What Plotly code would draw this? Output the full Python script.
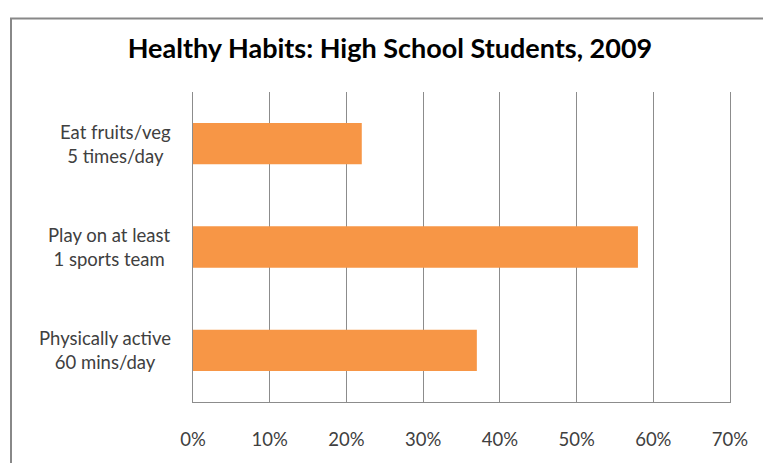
import plotly.graph_objects as go

categories = ["Physically active<br>60 mins/day", "Play on at least<br>1 sports team", "Eat fruits/veg<br>5 times/day"]
values = [0.37, 0.58, 0.22]
tick_vals = [0, 0.1, 0.2, 0.3, 0.4, 0.5, 0.6, 0.7]
tick_text = ["0%", "10%", "20%", "30%", "40%", "50%", "60%", "70%"]
title_text = "Healthy Habits: High School Students, 2009"

W, H = 763, 463
L, R, T, B = 193, 33, 92, 61
pw, ph = W - L - R, H - T - B

fig = go.Figure(go.Bar(
    y=list(range(len(categories))), x=values, orientation="h",
    marker=dict(color="#F79646", line=dict(width=0)), width=0.4,
))

annotations = []
for i, c in enumerate(categories):
    annotations.append(dict(
        x=-20.0 / pw, xref="paper", y=i, yref="y", text=c, showarrow=False,
        xanchor="right", yanchor="middle", align="center",
        font=dict(family="Lato", size=18.5, color="#404040"),
    ))

fig.update_layout(
    width=W, height=H,
    margin=dict(l=L, r=R, t=T, b=B),
    paper_bgcolor="white", plot_bgcolor="white",
    showlegend=False,
    title=dict(text=title_text, x=390 / W, xanchor="center", y=1 - 49 / H, yanchor="middle",
               font=dict(family="Lato", size=27, color="#000000", weight="bold")),
    xaxis=dict(range=[0, 0.7], tickvals=tick_vals, ticktext=tick_text,
               showgrid=True, gridcolor="#8C8C8C", gridwidth=1,
               showline=True, linecolor="#8C8C8C", linewidth=1, mirror=False,
               zeroline=False, ticks="", ticklen=0, ticklabelstandoff=21,
               tickfont=dict(family="Lato", size=18.5, color="#404040")),
    yaxis=dict(range=[-0.5, 2.5], showticklabels=False, showgrid=False,
               showline=True, linecolor="#8C8C8C", linewidth=1, mirror=True,
               zeroline=False, ticks=""),
    annotations=annotations,
    shapes=[dict(type="rect", xref="paper", yref="paper",
                 x0=(11 - L) / pw, x1=(W + 10 - L) / pw,
                 y0=(H - B - (H + 10)) / ph, y1=(H - B - 18.5) / ph,
                 line=dict(color="#888888", width=2), fillcolor="rgba(0,0,0,0)", layer="below")],
)

fig.write_html("out.html")
